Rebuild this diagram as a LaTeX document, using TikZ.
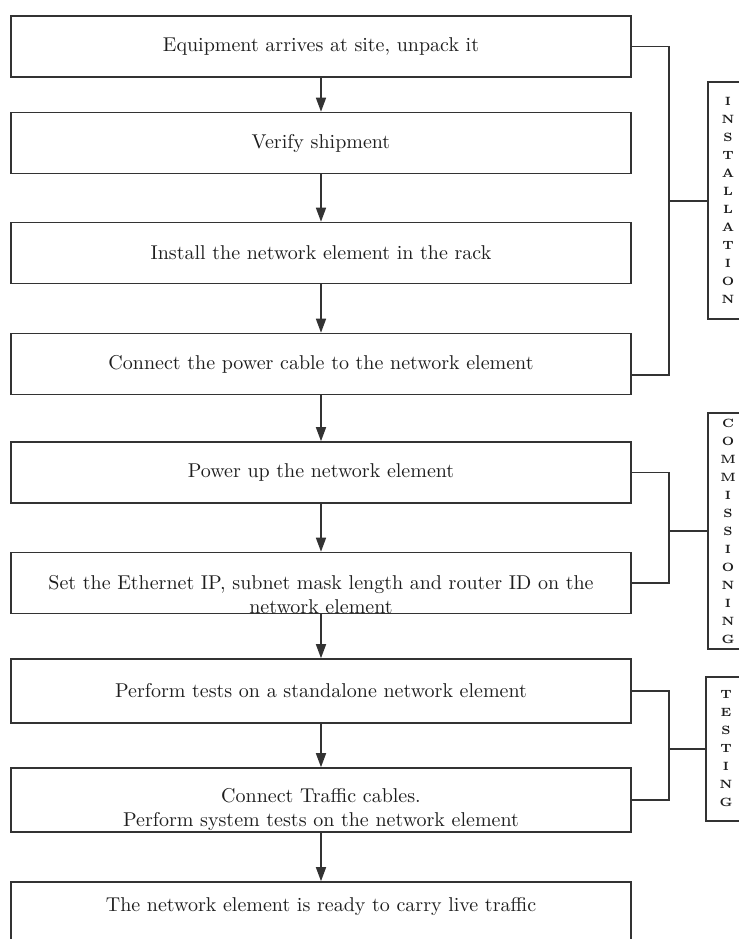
\documentclass[tikz,border=0pt]{standalone}
\usepackage{amsmath}
\usetikzlibrary{arrows.meta,positioning}
\definecolor{linegray}{HTML}{333333}
\definecolor{inkgray}{HTML}{1E1E1E}
\tikzset{
  stage/.style={draw=linegray,rectangle,line width=0.8pt,minimum width=310pt,minimum height=30.5pt,align=center,inner sep=0pt,text=inkgray},
  phase/.style={draw=linegray,rectangle,line width=0.8pt,minimum width=20pt,align=center,inner sep=0pt,text=inkgray,font=\fontsize{6}{9}\selectfont\bfseries},
  txt/.style={align=center,inner sep=0pt,text=inkgray}
}

\begin{document}
\begin{tikzpicture}[x=0.5pt,y=-0.5pt,>={Triangle[length=7pt,width=5pt]},line width=0.8pt,draw=linegray]
  \useasboundingbox (0,0) rectangle (739,939);

  \node[stage] (b1) at (321,46.5) {Equipment arrives at site, unpack it};
  \node[stage] (b2) at (321,143) {Verify shipment};
  \node[stage] (b3) at (321,253) {Install the network element in the rack};
  \node[stage] (b4) at (321,364) {Connect the power cable to the network element};
  \node[stage] (b5) at (321,472.5) {Power up the network element};
  \node[stage] (b6) at (321,583) {};
  \node[txt] (t6) at (321,595) {Set the Ethernet IP, subnet mask length and router ID on the\\network element};
  \node[stage,minimum height=32pt] (b7) at (321,691) {Perform tests on a standalone network element};
  \node[stage,minimum height=32pt] (b8) at (321,800) {};
  \node[txt] (t8) at (321,809.5) {Connect Traffic cables.\\Perform system tests on the network element};
  \node[stage,minimum height=31pt] (b9) at (321,913) {};
  \node[txt] (t9) at (321,906) {The network element is ready to carry live traffic};

  \node[phase,minimum height=118.5pt] (lab1) at (728,200.5) {I\\N\\S\\T\\A\\L\\L\\A\\T\\I\\O\\N};
  \node[phase,minimum height=118pt] (lab2) at (728,531) {C\\O\\M\\M\\I\\S\\S\\I\\O\\N\\I\\N\\G};
  \node[phase,minimum height=72pt] (lab3) at (726,749) {T\\E\\S\\T\\I\\N\\G};

  \draw[->] (b1.south)--(b2.north);
  \draw[->] (b2.south)--(b3.north);
  \draw[->] (b3.south)--(b4.north);
  \draw[->] (b4.south)--(b5.north);
  \draw[->] (b5.south)--(b6.north);
  \draw[->] (b6.south)--(b7.north);
  \draw[->] (b7.south)--(b8.north);
  \draw[->] (b8.south)--(b9.north);

  % brackets to the phase labels
  \coordinate (j1) at (669,201);
  \coordinate (j2) at (669,531);
  \coordinate (j3) at (669,749);
  \draw (b1.east)-|(j1)|-([yshift=-5.5pt]b4.east);
  \draw (j1)--(j1 -| lab1.west);
  \draw (b5.east)-|(j2)|-(b6.east);
  \draw (j2)--(j2 -| lab2.west);
  \draw (b7.east)-|(j3)|-(b8.east);
  \draw (j3)--(j3 -| lab3.west);
\end{tikzpicture}
\end{document}
